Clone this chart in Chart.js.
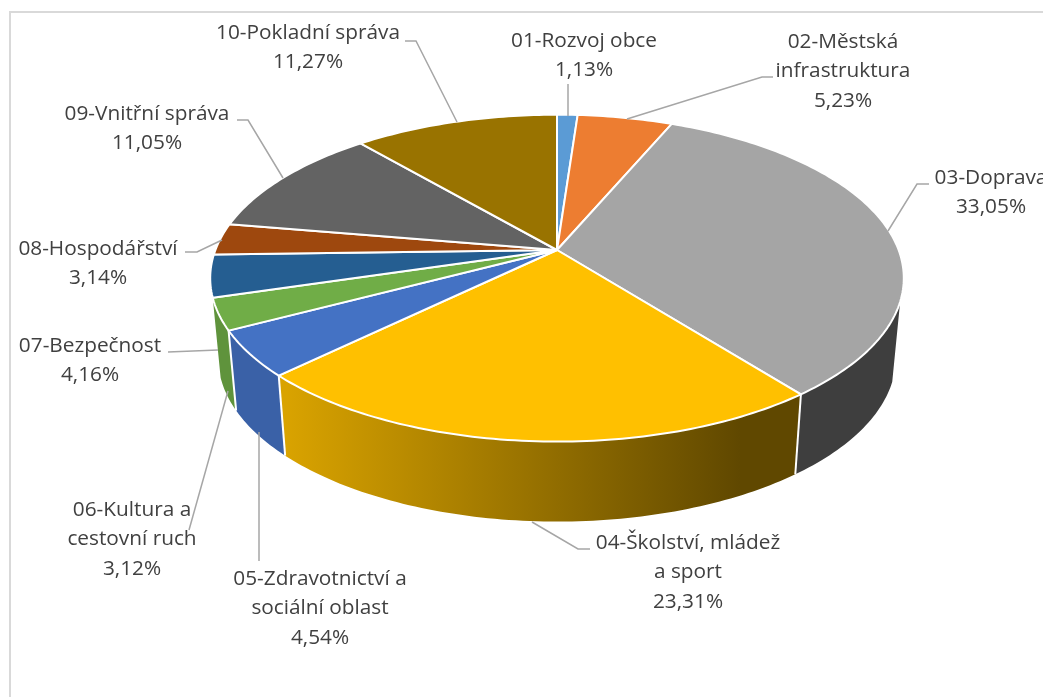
<!DOCTYPE html>
<html>
<head>
<meta charset="utf-8">
<style>
  html, body { margin: 0; padding: 0; background: #fff; overflow: hidden; }
  #frame { position: absolute; left: 9px; top: 11px; right: 0; bottom: 0; border-left: 2px solid #d9d9d9; border-top: 2px solid #d9d9d9; }
  canvas { position: absolute; left: 0; top: 0; }
</style>
<script src="https://cdn.jsdelivr.net/npm/chart.js@4/dist/chart.umd.min.js"></script>
</head>
<body>
<div id="frame"></div>
<canvas id="chart-pie" width="1043" height="697"></canvas>
<script>
const categories = [
  ['01-Rozvoj obce'],
  ['02-Městská', 'infrastruktura'],
  ['03-Doprava'],
  ['04-Školství, mládež', 'a sport'],
  ['05-Zdravotnictví a', 'sociální oblast'],
  ['06-Kultura a', 'cestovní ruch'],
  ['07-Bezpečnost'],
  ['08-Hospodářství'],
  ['09-Vnitřní správa'],
  ['10-Pokladní správa']
];
const values = [1.13, 5.23, 33.05, 23.31, 4.54, 3.12, 4.16, 3.14, 11.05, 11.27];
const colors = ['#5b9bd5', '#ed7d31', '#a5a5a5', '#ffc000', '#4472c4', '#70ad47', '#255e91', '#9e480e', '#636363', '#997300'];

// label anchor: centre x, first baseline y
const labelPos = [[584, 47], [843, 48], [991, 184], [688, 549], [320, 585], [132, 516], [90, 352], [98, 255], [147, 120], [308, 39]];
const leaders = [
  [[568, 84], [568, 116]],
  [[627, 119], [762, 77], [773, 77]],
  [[888, 231], [917, 184], [929, 184]],
  [[532, 522], [578, 549], [590, 549]],
  [[259, 432], [259, 561]],
  [[228, 391], [189, 530]],
  [[218, 350], [168, 352]],
  [[222, 240], [197, 252], [185, 252]],
  [[283, 178], [248, 120], [237, 120]],
  [[457, 122], [416, 41], [405, 41]]
];

// perspective of the tilted disc, relative to the library's own radius
const tilt = { k: 0.172, rx: 1.372, ry: 0.637, depth: 80, shrink: 0.977 };
const wallSlices = [2, 3, 4, 5];
const wallStart = 18 * Math.PI / 180; // the wall shows from here round the front
const lineHeight = 29.3;

const project = (arc, a, drop) => {
  const w = 1 - tilt.k * Math.sin(a);
  const scale = drop ? tilt.shrink : 1;
  return [
    arc.x + arc.outerRadius * tilt.rx * scale * Math.cos(a) / w,
    arc.y + arc.outerRadius * tilt.ry * Math.sin(a) / w + (drop ? tilt.depth : 0)
  ];
};

const darken = (hex, f) => {
  const n = parseInt(hex.slice(1), 16);
  return `rgb(${Math.round((n >> 16) * f)},${Math.round(((n >> 8) & 255) * f)},${Math.round((n & 255) * f)})`;
};

const pie3d = {
  id: 'pie3d',
  beforeDatasetsDraw(chart) {
    const ctx = chart.ctx;
    const arcs = chart.getDatasetMeta(0).data;
    ctx.save();
    ctx.lineJoin = 'round';

    // outer wall, light on the left and dark on the right
    wallSlices.forEach((i) => {
      const arc = arcs[i];
      const step = Math.PI / 180;
      const top = [];
      const bottom = [];
      for (let a = Math.max(arc.startAngle, wallStart); a < arc.endAngle; a += step) {
        top.push(project(arc, a, false));
        bottom.unshift(project(arc, a, true));
      }
      top.push(project(arc, arc.endAngle, false));
      bottom.unshift(project(arc, arc.endAngle, true));
      const gradient = ctx.createLinearGradient(286, 0, 740, 0);
      gradient.addColorStop(0, darken(arc.options.backgroundColor, 0.85));
      gradient.addColorStop(1, darken(arc.options.backgroundColor, 0.375));
      ctx.beginPath();
      top.concat(bottom).forEach((q, n) => (n ? ctx.lineTo(q[0], q[1]) : ctx.moveTo(q[0], q[1])));
      ctx.closePath();
      ctx.fillStyle = gradient;
      ctx.fill();
    });

    // white edges between the wall pieces
    ctx.strokeStyle = '#fff';
    ctx.lineWidth = 2;
    wallSlices.slice(0, -1).forEach((i) => {
      const arc = arcs[i];
      const top = project(arc, arc.endAngle, false);
      const bottom = project(arc, arc.endAngle, true);
      ctx.beginPath();
      ctx.moveTo(top[0], top[1]);
      ctx.lineTo(bottom[0], bottom[1]);
      ctx.stroke();
    });

    // top of the disc
    arcs.forEach((arc) => {
      ctx.beginPath();
      ctx.moveTo(arc.x, arc.y);
      for (let a = arc.startAngle; a < arc.endAngle; a += Math.PI / 180) {
        const q = project(arc, a, false);
        ctx.lineTo(q[0], q[1]);
      }
      const end = project(arc, arc.endAngle, false);
      ctx.lineTo(end[0], end[1]);
      ctx.closePath();
      ctx.fillStyle = arc.options.backgroundColor;
      ctx.fill();
      ctx.strokeStyle = '#fff';
      ctx.lineWidth = 2;
      ctx.stroke();
    });
    ctx.restore();
    return false;
  },
  afterDraw(chart) {
    const ctx = chart.ctx;
    ctx.save();
    ctx.strokeStyle = '#a6a6a6';
    ctx.lineWidth = 1.5;
    leaders.forEach((line) => {
      ctx.beginPath();
      line.forEach((q, n) => (n ? ctx.lineTo(q[0], q[1]) : ctx.moveTo(q[0], q[1])));
      ctx.stroke();
    });
    ctx.font = '20.8px "Open Sans"';
    ctx.fillStyle = '#404040';
    ctx.textAlign = 'center';
    categories.forEach((lines, i) => {
      const text = lines.concat(values[i].toFixed(2).replace('.', ',') + '%');
      text.forEach((t, n) => ctx.fillText(t, labelPos[i][0], labelPos[i][1] + n * lineHeight));
    });
    ctx.restore();
  }
};

new Chart(document.getElementById('chart-pie'), {
  type: 'pie',
  data: {
    labels: categories.map((c) => c.join(' ')),
    datasets: [{ data: values, backgroundColor: colors }]
  },
  options: {
    responsive: false,
    animation: false,
    layout: { padding: { left: 71, bottom: 197 } },
    plugins: { legend: { display: false }, tooltip: { enabled: false } }
  },
  plugins: [pie3d]
});
</script>
</body>
</html>
